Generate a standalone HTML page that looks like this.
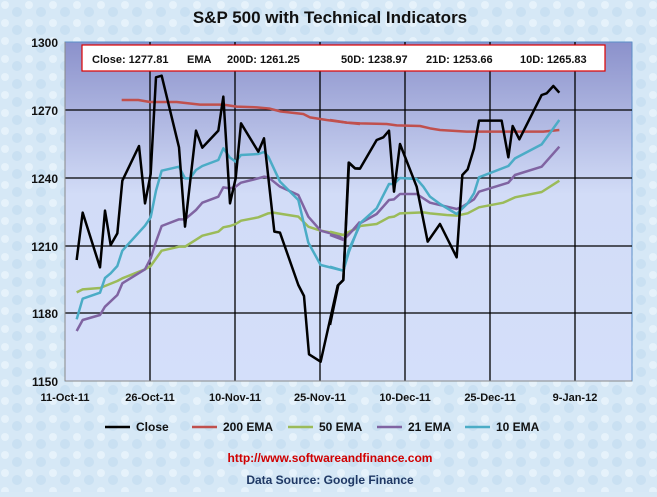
<!DOCTYPE html>
<html><head><style>
body{margin:0;width:657px;height:492px;overflow:hidden;background:#d8e9f6;font-family:"Liberation Sans",sans-serif;}
</style></head><body>
<svg width="657" height="492" viewBox="0 0 657 492" xmlns="http://www.w3.org/2000/svg">
<defs>
<linearGradient id="pg" x1="0" y1="0" x2="0" y2="1">
<stop offset="0" stop-color="#8b91cb"/><stop offset="0.45" stop-color="#d2dcf7"/><stop offset="1" stop-color="#d4dffa"/>
</linearGradient>
<pattern id="tx" width="24" height="18" patternUnits="userSpaceOnUse">
<rect width="24" height="18" fill="#d6e8f6"/><circle cx="5" cy="5" r="4" fill="#e6f2fb"/><circle cx="17" cy="12" r="5" fill="#c9e0f2"/>
</pattern>
</defs>
<rect width="657" height="492" fill="url(#tx)"/>
<text x="330" y="23" text-anchor="middle" font-size="17" font-weight="bold" fill="#111">S&amp;P 500 with Technical Indicators</text>
<rect x="65" y="42" width="567" height="339" fill="url(#pg)" stroke="#5b8ec8" stroke-width="1"/>
<g stroke="#000" stroke-width="1.3">
<line x1="65" y1="110" x2="632" y2="110"/><line x1="65" y1="178" x2="632" y2="178"/>
<line x1="65" y1="246" x2="632" y2="246"/><line x1="65" y1="313" x2="632" y2="313"/>
<line x1="150" y1="42" x2="150" y2="381"/><line x1="235" y1="42" x2="235" y2="381"/>
<line x1="320" y1="42" x2="320" y2="381"/><line x1="405" y1="42" x2="405" y2="381"/>
<line x1="490" y1="42" x2="490" y2="381"/><line x1="575" y1="42" x2="575" y2="381"/>
</g>
<line x1="65" y1="381" x2="632" y2="381" stroke="#888"/>
<line x1="65" y1="42" x2="65" y2="381" stroke="#888"/>
<g font-size="12" font-weight="bold" fill="#111" text-anchor="end">
<text x="58" y="47">1300</text><text x="58" y="115">1270</text><text x="58" y="183">1240</text>
<text x="58" y="251">1210</text><text x="58" y="318">1180</text><text x="58" y="386">1150</text>
</g>
<g font-size="11" font-weight="bold" fill="#111" text-anchor="middle">
<text x="65" y="401">11-Oct-11</text><text x="150" y="401">26-Oct-11</text><text x="235" y="401">10-Nov-11</text>
<text x="320" y="401">25-Nov-11</text><text x="405" y="401">10-Dec-11</text><text x="490" y="401">25-Dec-11</text>
<text x="575" y="401">9-Jan-12</text>
</g>
<g fill="none" stroke-width="2.5" stroke-linejoin="round">
<g transform="translate(60,60) scale(0.33333)">
<polyline vector-effect="non-scaling-stroke" stroke="#c0504d" points="185,120 235,120 270,126 350,126 420,134 490,134 530,140 590,142 630,146 660,154 730,162 750,172 800,180 860,188 900,192"/>
<polyline vector-effect="non-scaling-stroke" stroke="#9bbb59" points="50,697 68,688 120,684 172,663 187,655 255,628 272,618 305,572 357,560 375,560 427,527 475,515 490,502 510,498 527,492 543,482 595,472 625,460 640,458 715,470 745,500 782,512 850,525 900,500"/>
<polyline vector-effect="non-scaling-stroke" stroke="#8064a2" points="50,813 68,780 120,765 135,740 172,705 187,670 255,628 272,595 288,545 305,498 357,478 375,478 408,450 427,428 475,410 490,382 510,385 527,380 543,368 595,355 612,350 625,352 660,380 715,405 745,470 782,512 833,526 850,538 866,524 900,485"/>
<polyline vector-effect="non-scaling-stroke" stroke="#4bacc6" points="50,778 68,716 120,698 135,654 152,640 172,618 187,572 255,497 272,472 288,392 305,332 357,320 375,355 390,355 408,330 427,318 475,300 490,265 510,293 527,305 543,285 595,282 612,276 625,290 660,365 715,420 745,548 782,615 850,632 866,570 900,495"/>
<polyline vector-effect="non-scaling-stroke" stroke="#000" points="50,600 68,458 120,622 135,452 152,555 172,520 187,362 237,258 255,430 272,342 288,52 305,47 357,262 375,500 408,212 427,263 475,212 490,110 510,430 527,355 543,190 595,275 612,235 643,515 660,518 715,675 732,708 747,883 782,905 833,677 850,660 866,308 885,325 900,326"/>
</g>
<g transform="translate(330,60) scale(0.33333)">
<polyline vector-effect="non-scaling-stroke" stroke="#c0504d" points="0,180 50,188 90,190 170,192 200,196 270,198 300,205 330,210 410,215 520,215 640,215 688,210"/>
<polyline vector-effect="non-scaling-stroke" stroke="#9bbb59" points="0,515 40,525 90,498 140,492 177,472 192,470 210,460 280,457 300,460 350,465 380,467 413,460 447,442 520,428 555,412 635,396 688,362"/>
<polyline vector-effect="non-scaling-stroke" stroke="#8064a2" points="0,525 40,540 57,522 90,490 140,462 177,420 192,418 210,402 260,402 300,428 380,447 397,440 432,418 447,395 535,368 555,345 635,320 688,260"/>
<polyline vector-effect="non-scaling-stroke" stroke="#4bacc6" points="0,620 40,632 57,575 90,490 140,445 177,372 192,372 210,354 260,357 280,380 300,410 330,432 380,462 413,430 432,400 447,352 535,318 555,295 635,253 670,205 688,180"/>
<polyline vector-effect="non-scaling-stroke" stroke="#000" points="0,795 25,675 40,660 57,308 75,325 90,326 140,240 160,232 177,212 192,395 210,252 260,380 293,545 330,492 380,592 397,345 413,328 432,265 447,182 515,182 535,292 548,198 568,238 635,105 650,100 670,78 688,98"/>
</g>
</g>
<rect x="82" y="45" width="523" height="26" fill="#fff" stroke="#d00" stroke-width="1.2"/>
<g font-size="11" font-weight="bold" fill="#111">
<text x="92" y="63">Close: 1277.81</text>
<text x="187" y="63">EMA</text>
<text x="227" y="63">200D: 1261.25</text>
<text x="341" y="63">50D: 1238.97</text>
<text x="426" y="63">21D: 1253.66</text>
<text x="520" y="63">10D: 1265.83</text>
</g>
<g font-size="12" font-weight="bold" fill="#111">
<line x1="105" y1="427" x2="130" y2="427" stroke="#000" stroke-width="2.5"/><text x="136" y="431">Close</text>
<line x1="192" y1="427" x2="217" y2="427" stroke="#c0504d" stroke-width="2.5"/><text x="223" y="431">200 EMA</text>
<line x1="288" y1="427" x2="313" y2="427" stroke="#9bbb59" stroke-width="2.5"/><text x="319" y="431">50 EMA</text>
<line x1="377" y1="427" x2="402" y2="427" stroke="#8064a2" stroke-width="2.5"/><text x="408" y="431">21 EMA</text>
<line x1="465" y1="427" x2="490" y2="427" stroke="#4bacc6" stroke-width="2.5"/><text x="496" y="431">10 EMA</text>
</g>
<text x="330" y="462" text-anchor="middle" font-size="12" font-weight="bold" fill="#d00000">http://www.softwareandfinance.com</text>
<text x="330" y="484" text-anchor="middle" font-size="12" font-weight="bold" fill="#1f3864">Data Source: Google Finance</text>
</svg>
</body></html>
